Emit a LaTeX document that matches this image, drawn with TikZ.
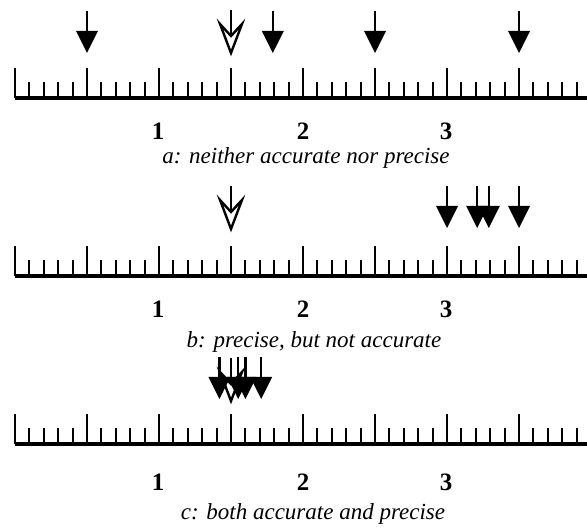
\documentclass[tikz,border=0pt]{standalone}
\usepackage{fontspec}
\setmainfont{Liberation Serif}
\tikzset{
  shaftline/.style={line width=2.4pt},
  tickline/.style={line width=2pt},
  rulerbase/.style={line width=3.5pt},
  hollowhead/.style={line width=2.4pt, fill=white, line join=miter},
  numtext/.style={font=\fontsize{25}{29}\selectfont\bfseries, inner sep=0pt},
  captext/.style={font=\fontsize{23}{27}\selectfont\itshape, inner sep=0pt},
}
% filled arrow: value v, vertical offset dy
\newcommand\FArrow[2]{%
  \draw[shaftline] (15+144*#1,11+#2) -- (15+144*#1,33+#2);
  \fill (15+144*#1-11,31+#2) -- (15+144*#1+11,31+#2) -- (15+144*#1,53+#2) -- cycle;}
% hollow arrow
\newcommand\HArrow[2]{%
  \draw[shaftline] (15+144*#1,10+#2) -- (15+144*#1,37+#2);
  \draw[hollowhead] (15+144*#1-11,24+#2) -- (15+144*#1,53+#2) -- (15+144*#1+11,24+#2) -- (15+144*#1,36+#2) -- cycle;}
% ruler with baseline at y
\newcommand\Ruler[1]{%
  \foreach \i in {0,...,39}{%
    \pgfmathsetmacro\h{mod(\i,5)==0 ? 30 : 16}%
    \draw[tickline] (15+14.4*\i,#1) -- (15+14.4*\i,#1-\h);}
  \draw[rulerbase] (15,#1) -- (587,#1);}
\begin{document}
\begin{tikzpicture}[x=1pt,y=-1pt]
\useasboundingbox (0,0) rectangle (587,529);
% row a
\HArrow{1.5}{0}
\foreach \v in {0.5,1.79,2.5,3.5}{\FArrow{\v}{0}}
\Ruler{98}
\node[numtext] (a1) at (158,131) {1};
\node[numtext] (a2) at (303,131) {2};
\node[numtext] (a3) at (446,131) {3};
\node[captext] (capa) at (306,158) {a: neither accurate nor precise};
% row b
\HArrow{1.5}{176}
\foreach \v in {3.0,3.21,3.29,3.5}{\FArrow{\v}{175}}
\Ruler{276}
\node[numtext] (b1) at (158,309) {1};
\node[numtext] (b2) at (303,309) {2};
\node[numtext] (b3) at (446,309) {3};
\node[captext] (capb) at (314,342) {b: precise, but not accurate};
% row c
\HArrow{1.5}{348}
\foreach \v in {1.42,1.55,1.60,1.71}{\FArrow{\v}{346}}
\Ruler{444}
\node[numtext] (c1) at (158,482) {1};
\node[numtext] (c2) at (303,482) {2};
\node[numtext] (c3) at (446,482) {3};
\node[captext] (capc) at (313,514) {c: both accurate and precise};
\end{tikzpicture}
\end{document}
